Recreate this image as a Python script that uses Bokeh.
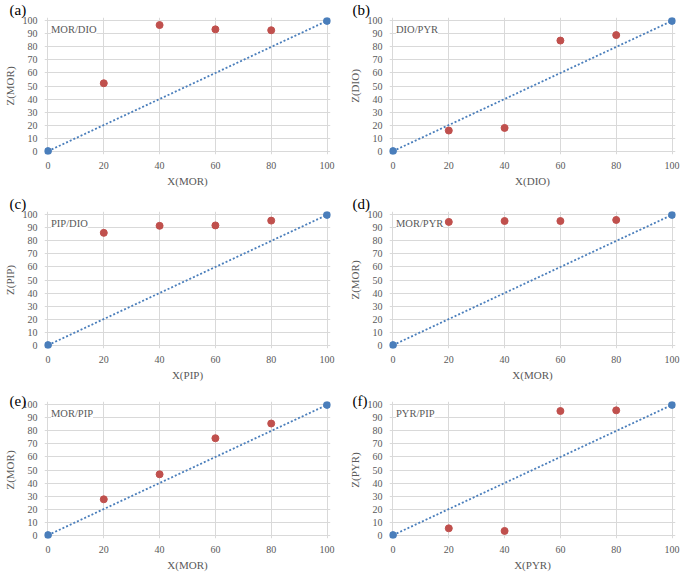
from bokeh.plotting import figure
from bokeh.layouts import column, row
from bokeh.models import Label, FixedTicker, Range1d, Title
from bokeh.embed import file_html
from bokeh.resources import INLINE

# ---- data ----
panel_tags = ["(a)", "(b)", "(c)", "(d)", "(e)", "(f)"]
panel_titles = ["MOR/DIO", "DIO/PYR", "PIP/DIO", "MOR/PYR", "MOR/PIP", "PYR/PIP"]
x_titles = ["X(MOR)", "X(DIO)", "X(PIP)", "X(MOR)", "X(MOR)", "X(PYR)"]
y_titles = ["Z(MOR)", "Z(DIO)", "Z(PIP)", "Z(MOR)", "Z(MOR)", "Z(PYR)"]

x_meas = [20, 40, 60, 80]
z_mor_dio = [52.1, 96.8, 93.5, 92.8]
z_dio_pyr = [15.8, 17.8, 84.9, 89.1]
z_pip_dio = [86.2, 91.6, 91.9, 95.6]
z_mor_pyr = [94.6, 95.3, 95.3, 96.1]
z_mor_pip = [27.5, 46.7, 74.4, 85.7]
z_pyr_pip = [5.2, 3.2, 95.3, 95.8]
z_series = [z_mor_dio, z_dio_pyr, z_pip_dio, z_mor_pyr, z_mor_pip, z_pyr_pip]

x_ref = [0, 100]
z_ref = [0, 100]

x_ticks = [0, 20, 40, 60, 80, 100]
y_ticks = [0, 10, 20, 30, 40, 50, 60, 70, 80, 90, 100]

# ---- style ----
FONT = "Liberation Serif"
GRAY = "#595959"
GRID = "#d9d9d9"
RED = "#c0504d"
BLUE = "#4a7ebb"

FW, FH = 286, 137
col_borders = [(35, 15), (41, 6)]
row_borders = [(11, 39), (18, 28), (18, 26)]
tag_offsets = [-35, -37]
tag_standoffs = [-1, 0, -14]


def make_panel(i):
    r, c = divmod(i, 2)
    bl, br = col_borders[c]
    bt, bb = row_borders[r]
    p = figure(frame_width=FW, frame_height=FH,
               min_border_left=bl, min_border_right=br,
               min_border_top=bt, min_border_bottom=bb,
               x_range=Range1d(-1.25, 101.25), y_range=Range1d(-2.6, 102.6),
               output_backend="svg", toolbar_location=None,
               background_fill_color="white", border_fill_color="white")
    p.outline_line_color = None
    for ax, ticks, title in ((p.xaxis[0], x_ticks, x_titles[i]), (p.yaxis[0], y_ticks, y_titles[i])):
        ax.ticker = FixedTicker(ticks=ticks)
        ax.axis_line_color = None
        ax.major_tick_line_color = None
        ax.minor_tick_line_color = None
        ax.major_label_text_font = FONT
        ax.major_label_text_font_size = "10px"
        ax.major_label_text_color = GRAY
        ax.axis_label = title
        ax.axis_label_text_font = FONT
        ax.axis_label_text_font_size = "11px"
        ax.axis_label_text_font_style = "normal"
        ax.axis_label_text_color = GRAY
    p.xaxis.major_label_standoff = 1
    p.xaxis.axis_label_standoff = 3
    p.yaxis.major_label_standoff = 1
    p.yaxis.axis_label_standoff = 4
    p.xgrid.ticker = FixedTicker(ticks=x_ticks)
    p.ygrid.ticker = FixedTicker(ticks=y_ticks)
    p.grid.grid_line_color = GRID
    p.grid.grid_line_width = 1

    p.line(x_ref, z_ref, line_color=BLUE, line_width=1.8, line_dash="2 2")
    p.scatter(x_ref, z_ref, size=7, fill_color=BLUE, line_color=BLUE)
    p.scatter(x_meas, z_series[i], size=7, fill_color=RED, line_color=RED)

    p.add_layout(Label(x=0, y=100, x_offset=3, y_offset=-3, text=panel_titles[i],
                       text_font=FONT, text_font_size="10.5px", text_color=GRAY,
                       text_baseline="top", text_align="left",
                       background_fill_color="white", background_fill_alpha=1.0))
    p.add_layout(Title(text=panel_tags[i], align="left", offset=tag_offsets[c],
                       standoff=tag_standoffs[r], text_font=FONT,
                       text_font_size="15px", text_font_style="normal",
                       text_color="black"), "above")
    return p


panels = [make_panel(i) for i in range(6)]
layout = column(row(panels[0], panels[1]), row(panels[2], panels[3]), row(panels[4], panels[5]))

open("out.html", "w").write(file_html(layout, INLINE))
